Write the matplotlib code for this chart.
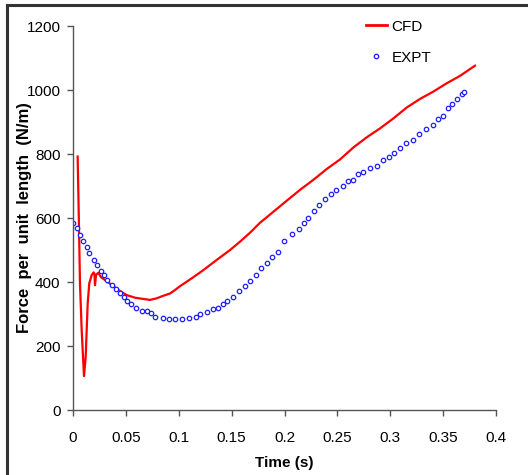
import glob
import matplotlib
matplotlib.use("Agg")
import matplotlib.pyplot as plt
from matplotlib import font_manager
from matplotlib.lines import Line2D

# look for a narrow Arial-like face; otherwise plain Liberation Sans a bit smaller
narrow_files = [f for f in glob.glob("/usr/share/fonts/**/*.ttf", recursive=True)
                if "Narrow" in f and "Liberation" in f]
for f in narrow_files:
    font_manager.fontManager.addfont(f)
names = set(f.name for f in font_manager.fontManager.ttflist)
if "Liberation Sans Narrow" in names:
    narrow = "Liberation Sans Narrow"
    tsize = 12
else:
    narrow = "Liberation Sans"
    tsize = 11

# CFD line (time s, force N/m)
cfd_t = [0.0044, 0.0055, 0.0066, 0.0082, 0.0104, 0.012, 0.0139, 0.0154, 0.0177, 0.0196,
         0.0203, 0.0208, 0.0218, 0.0239, 0.0265, 0.0303, 0.0366, 0.0429, 0.0508, 0.0586,
         0.0665, 0.0728, 0.0791, 0.0854, 0.0917, 0.0965, 0.1012, 0.1053, 0.1138, 0.1232,
         0.1359, 0.1485, 0.1579, 0.1674, 0.1768, 0.1915, 0.2021, 0.2147, 0.2272, 0.2399,
         0.2525, 0.265, 0.2777, 0.2903, 0.3029, 0.3155, 0.3281, 0.3407, 0.3534, 0.3659,
         0.3801]
cfd_f = [792, 600, 396, 250, 106, 167, 333, 396, 422, 430,
         425, 390, 422, 429, 415, 406, 391, 375, 359, 351,
         347, 344, 349, 357, 364, 375, 387, 396, 415, 437,
         469, 500, 526, 554, 585, 625, 654, 688, 719, 753,
         783, 820, 852, 880, 911, 945, 972, 995, 1021, 1044,
         1076]

# experiment points
expt_t = [0.0003, 0.0035, 0.0066, 0.0097, 0.013, 0.0151, 0.0199, 0.023, 0.0262, 0.0296,
          0.0325, 0.0366, 0.0404, 0.0444, 0.0482, 0.0511, 0.0551, 0.0599, 0.0652, 0.0697,
          0.0735, 0.0778, 0.0851, 0.0908, 0.0962, 0.1028, 0.1097, 0.116, 0.1201, 0.1264,
          0.1321, 0.1374, 0.1416, 0.1459, 0.1516, 0.157, 0.1626, 0.1674, 0.1733, 0.1778,
          0.1832, 0.1885, 0.1939, 0.1995, 0.2074, 0.2137, 0.2184, 0.2225, 0.2279, 0.2326,
          0.238, 0.2437, 0.249, 0.2553, 0.26, 0.265, 0.2698, 0.2745, 0.2809, 0.2872,
          0.2931, 0.2988, 0.3035, 0.3089, 0.3152, 0.3215, 0.3272, 0.3341, 0.3404, 0.3455,
          0.3502, 0.355, 0.3587, 0.3634, 0.3676, 0.3697]
expt_f = [583, 568, 546, 528, 508, 490, 469, 453, 435, 422,
          405, 391, 377, 365, 352, 341, 332, 318, 310, 310,
          304, 292, 288, 284, 284, 284, 288, 292, 300, 307,
          315, 320, 330, 341, 354, 373, 388, 403, 422, 443,
          460, 477, 495, 528, 549, 565, 585, 601, 622, 641,
          659, 674, 688, 701, 716, 719, 738, 745, 757, 763,
          781, 790, 802, 820, 833, 844, 861, 877, 891, 908,
          920, 943, 956, 971, 987, 995]

xticks = [0, 0.05, 0.1, 0.15, 0.2, 0.25, 0.3, 0.35, 0.4]
xtick_labels = ["0", "0.05", "0.1", "0.15", "0.2", "0.25", "0.3", "0.35", "0.4"]
yticks = [0, 200, 400, 600, 800, 1000, 1200]

fig = plt.figure(figsize=(5.28, 4.75), dpi=100)
ax = fig.add_axes([73/528, 1-410/475, 423/528, 384/475])

ax.plot(cfd_t, cfd_f, color="#ff0000", lw=1.6, label="CFD")
ax.plot(expt_t, expt_f, ls="none", marker="o", ms=3.2, mfc="white", mec="#1f1fff", mew=0.9,
        label="EXPT")

ax.set_xlim(0, 0.4)
ax.set_ylim(0, 1200)
ax.set_xticks(xticks)
ax.set_xticklabels(xtick_labels)
ax.set_yticks(yticks)
for s in ["top", "right"]:
    ax.spines[s].set_visible(False)
for s in ["left", "bottom"]:
    ax.spines[s].set_color("#555555")
    ax.spines[s].set_linewidth(1.0)
ax.tick_params(direction="out", length=4, width=1, color="#555555", labelsize=tsize)
ax.tick_params(axis="x", pad=11)
ax.tick_params(axis="y", pad=5)
for lab in ax.get_xticklabels() + ax.get_yticklabels():
    lab.set_fontfamily(narrow)

ax.set_xlabel("Time (s)", fontfamily=narrow, fontweight="bold", fontsize=tsize, labelpad=8)
fig.text(25/528, 1-218/475, "Force  per  unit  length  (N/m)", rotation=90,
         ha="center", va="center", fontfamily="Liberation Sans", fontweight="bold",
         fontsize=12)

handles = [Line2D([], [], color="#ff0000", lw=2),
           Line2D([], [], ls="none", marker="o", ms=3.2, mfc="white", mec="#1f1fff", mew=0.9)]
ax.legend(handles, ["CFD", "EXPT"], loc="upper left", bbox_to_anchor=(352/528, 1-6/475),
          bbox_transform=fig.transFigure, frameon=False, handlelength=1.4, handletextpad=0.3,
          labelspacing=1.1, prop={"family": narrow, "size": tsize})

# border lines of the original frame (left and top only)
fig.add_artist(Line2D([7/528, 7/528], [0, 1-5/475], color="#333333", lw=2.2,
                      transform=fig.transFigure))
fig.add_artist(Line2D([7/528, 1], [1-5/475, 1-5/475], color="#333333", lw=2.2,
                      transform=fig.transFigure))

fig.savefig("out.png", dpi=100)
